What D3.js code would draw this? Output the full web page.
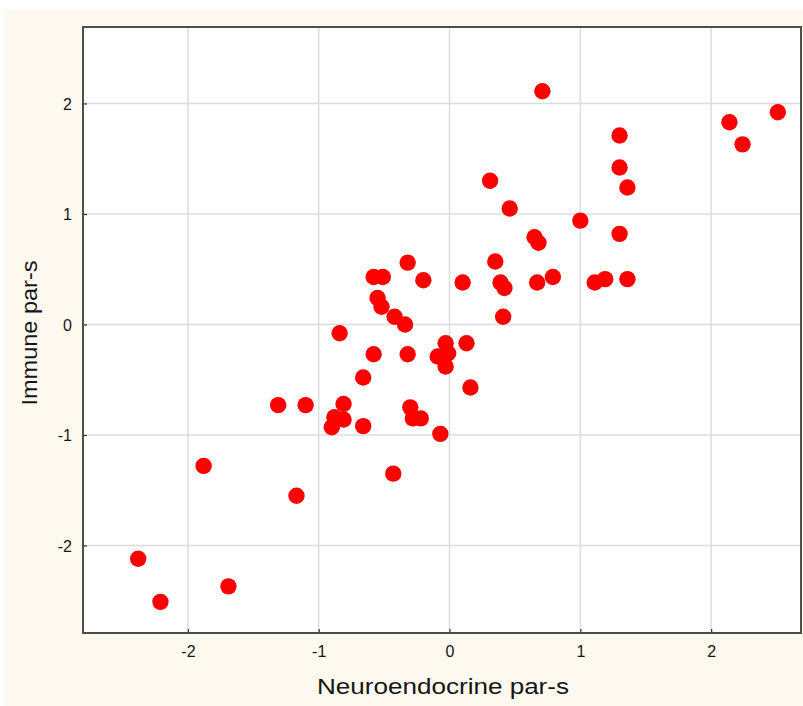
<!DOCTYPE html>
<html>
<head>
<meta charset="utf-8">
<script src="https://cdn.jsdelivr.net/npm/d3@7"></script>
<style>
  html, body { margin: 0; padding: 0; background: #fff; }
  text { font-family: "Liberation Sans", Arial, sans-serif; fill: #151515; }
</style>
</head>
<body>
<svg id="chart" width="803" height="706"></svg>
<script>
// data
const neuro = [2.51, 2.14, 2.24, 0.71, 1.30, 1.30, 1.36, 0.31, 0.46, 1.00,
  1.30, 0.65, 0.68, 0.35, 0.10, 0.39, 0.42, 0.67, 0.79, 1.11,
  1.19, 1.36, 0.41, -0.32, -0.58, -0.51, -0.20, -0.55, -0.52, -0.42,
  -0.34, -0.84, -0.58, -0.32, -0.03, -0.01, -0.09, -0.03, 0.13, -0.66,
  0.16, -1.31, -1.10, -0.81, -0.88, -0.81, -0.90, -0.66, -0.30, -0.28,
  -0.22, -0.07, -0.43, -1.88, -1.17, -2.38, -2.21, -1.69];
const immune = [1.92, 1.83, 1.63, 2.11, 1.71, 1.42, 1.24, 1.30, 1.05, 0.94,
  0.82, 0.79, 0.74, 0.57, 0.38, 0.38, 0.33, 0.38, 0.43, 0.38,
  0.41, 0.41, 0.07, 0.56, 0.43, 0.43, 0.40, 0.24, 0.16, 0.07,
  0.00, -0.08, -0.27, -0.27, -0.17, -0.26, -0.29, -0.38, -0.17, -0.48,
  -0.57, -0.73, -0.73, -0.72, -0.84, -0.86, -0.93, -0.92, -0.75, -0.85,
  -0.85, -0.99, -1.35, -1.28, -1.55, -2.12, -2.51, -2.37];
const ticks = [-2, -1, 0, 1, 2];
const xTitle = "Neuroendocrine par-s";
const yTitle = "Immune par-s";

const svg = d3.select('#chart');
const plot = {left: 83, top: 27, right: 801, bottom: 633};

// cream page background
svg.append('rect')
  .attr('x', 5).attr('y', 10)
  .attr('width', 798).attr('height', 696)
  .attr('fill', '#fef9ee');

const x = d3.scaleLinear().domain([-2.802, 2.687]).range([plot.left, plot.right]);
const y = d3.scaleLinear().domain([-2.792, 2.692]).range([plot.bottom, plot.top]);

svg.append('rect')
  .attr('x', plot.left).attr('y', plot.top)
  .attr('width', plot.right - plot.left).attr('height', plot.bottom - plot.top)
  .attr('fill', '#fff');

// grid
const grid = svg.append('g');
grid.selectAll('.gx').data(ticks).join('line')
  .attr('x1', d => x(d)).attr('x2', d => x(d))
  .attr('y1', plot.top).attr('y2', plot.bottom)
  .attr('stroke', '#dcdcdc').attr('stroke-width', 1.5);
grid.selectAll('.gy').data(ticks).join('line')
  .attr('y1', d => y(d)).attr('y2', d => y(d))
  .attr('x1', plot.left).attr('x2', plot.right)
  .attr('stroke', '#dcdcdc').attr('stroke-width', 1.5);

// points
svg.append('g').selectAll('circle').data(neuro).join('circle')
  .attr('cx', d => x(d))
  .attr('cy', (d, i) => y(immune[i]))
  .attr('r', 8.2)
  .attr('fill', '#ff0000');

// axes with inward ticks, plain hyphen for negatives
const fmt = d => String(d);
const xAxis = svg.append('g')
  .attr('transform', `translate(0,${plot.bottom})`)
  .call(d3.axisBottom(x).tickValues(ticks).tickSize(-4).tickPadding(13).tickFormat(fmt));
const yAxis = svg.append('g')
  .attr('transform', `translate(${plot.left},0)`)
  .call(d3.axisLeft(y).tickValues(ticks).tickSize(-4).tickPadding(11).tickFormat(fmt));
[xAxis, yAxis].forEach(a => {
  a.attr('font-size', 16).attr('font-family', null);
  a.select('.domain').remove();
  a.selectAll('line').attr('stroke', '#333').attr('stroke-width', 1.2);
  a.selectAll('text').attr('fill', '#151515');
});
xAxis.selectAll('text').attr('dy', '0.71em');
yAxis.selectAll('text').attr('dy', '0.36em');

// frame
svg.append('rect')
  .attr('x', plot.left).attr('y', plot.top)
  .attr('width', plot.right - plot.left).attr('height', plot.bottom - plot.top)
  .attr('fill', 'none').attr('stroke', '#4e4e4a').attr('stroke-width', 2);

// titles
svg.append('text')
  .attr('x', 443).attr('y', 694)
  .attr('text-anchor', 'middle')
  .attr('font-size', 22)
  .attr('textLength', 252).attr('lengthAdjust', 'spacingAndGlyphs')
  .text(xTitle);
svg.append('text')
  .attr('transform', 'translate(37,333) rotate(-90)')
  .attr('text-anchor', 'middle')
  .attr('font-size', 22)
  .attr('textLength', 145).attr('lengthAdjust', 'spacingAndGlyphs')
  .text(yTitle);
</script>
</body>
</html>
